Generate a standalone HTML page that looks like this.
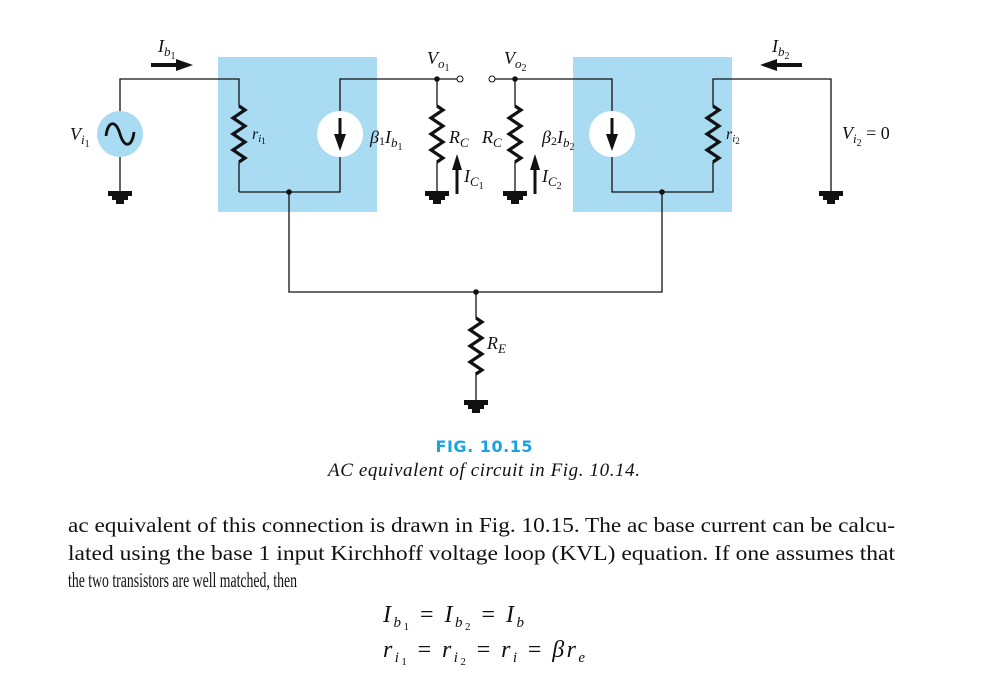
<!DOCTYPE html>
<html><head><meta charset="utf-8"><style>
html,body{margin:0;padding:0;background:#fff;}
svg{display:block;}
.t{font-family:"Liberation Serif",serif;font-style:italic;fill:#111;}
.b{font-family:"Liberation Serif",serif;fill:#111;}
</style></head><body>
<svg width="998" height="676" viewBox="0 0 998 676" xmlns="http://www.w3.org/2000/svg">
<defs>
<g id="gnd"><rect x="-12" y="0" width="24" height="5" fill="#111"/><rect x="-8" y="5" width="16" height="4" fill="#111"/><rect x="-4" y="9" width="8" height="4" fill="#111"/></g>
<path id="res" d="M0 0 l6 4 l-12 8 l12 8 l-12 8 l12 8 l-12 8 l12 8 l-6 4" fill="none" stroke="#111" stroke-width="3.2" stroke-linejoin="miter"/>
</defs>
<rect x="218" y="57" width="159" height="155" fill="#a9dcf3"/>
<rect x="573" y="57" width="159" height="155" fill="#a9dcf3"/>
<g stroke="#111" stroke-width="1.3" fill="none">
<polyline points="120,112 120,79 239,79 239,106"/>
<line x1="120" y1="157" x2="120" y2="191"/>
<line x1="239" y1="162" x2="239" y2="192"/>
<polyline points="239,192 340,192 340,157"/>
<polyline points="340,111 340,79 459,79"/>
<line x1="437" y1="79" x2="437" y2="106"/>
<line x1="437" y1="162" x2="437" y2="191"/>
<polyline points="492,79 612,79 612,111"/>
<line x1="515" y1="79" x2="515" y2="106"/>
<line x1="515" y1="162" x2="515" y2="191"/>
<polyline points="612,157 612,192 713,192 713,162"/>
<polyline points="713,106 713,79 831,79 831,191"/>
<polyline points="289,192 289,292 662,292 662,192"/>
<line x1="476" y1="292" x2="476" y2="318"/>
<line x1="476" y1="372" x2="476" y2="400"/>
</g>
<use href="#res" x="239" y="106"/>
<use href="#res" x="437" y="106"/>
<use href="#res" x="515" y="106"/>
<use href="#res" x="713" y="106"/>
<use href="#res" x="476" y="318"/>
<use href="#gnd" x="120" y="191"/>
<use href="#gnd" x="437" y="191"/>
<use href="#gnd" x="515" y="191"/>
<use href="#gnd" x="831" y="191"/>
<use href="#gnd" x="476" y="400"/>
<circle cx="289" cy="192" r="2.8" fill="#111"/>
<circle cx="662" cy="192" r="2.8" fill="#111"/>
<circle cx="476" cy="292" r="2.8" fill="#111"/>
<circle cx="437" cy="79" r="2.8" fill="#111"/>
<circle cx="515" cy="79" r="2.8" fill="#111"/>
<circle cx="460" cy="79" r="3" fill="#fff" stroke="#111" stroke-width="1"/>
<circle cx="492" cy="79" r="3" fill="#fff" stroke="#111" stroke-width="1"/>
<circle cx="120" cy="134" r="23" fill="#a9dcf3"/>
<path d="M106 136 C108 120,116 120,120 134 C124 148,132 148,134 132" fill="none" stroke="#111" stroke-width="2.8"/>
<circle cx="340" cy="134" r="23" fill="#fff"/>
<circle cx="612" cy="134" r="23" fill="#fff"/>
<g fill="#111">
<rect x="338.5" y="118" width="3" height="18"/><polygon points="334,134 346,134 340,151"/>
<rect x="610.5" y="118" width="3" height="18"/><polygon points="606,134 618,134 612,151"/>
<rect x="151" y="63" width="28" height="4"/><polygon points="176,59 193,65 176,71"/>
<rect x="774" y="63" width="28" height="4"/><polygon points="777,59 760,65 777,71"/>
<rect x="455.5" y="168" width="3" height="26"/><polygon points="452,170 462,170 457,154"/>
<rect x="533.5" y="168" width="3" height="26"/><polygon points="530,170 540,170 535,154"/>
</g>
<text class="t" x="158" y="52" font-size="18">I<tspan font-size="13" dy="4">b</tspan><tspan font-size="10" dy="3" font-style="normal">1</tspan></text>
<text class="t" x="772" y="52" font-size="18">I<tspan font-size="13" dy="4">b</tspan><tspan font-size="10" dy="3" font-style="normal">2</tspan></text>
<text class="t" x="70" y="140" font-size="18">V<tspan font-size="13" dy="4">i</tspan><tspan font-size="10" dy="3" font-style="normal">1</tspan></text>
<text class="t" x="252" y="139" font-size="16">r<tspan font-size="11" dy="3">i</tspan><tspan font-size="9" dy="2" font-style="normal">1</tspan></text>
<text class="t" x="370" y="143" font-size="18">β<tspan font-size="12" dy="2" font-style="normal">1</tspan><tspan dy="-2">I</tspan><tspan font-size="13" dy="4">b</tspan><tspan font-size="10" dy="3" font-style="normal">1</tspan></text>
<text class="t" x="427" y="64" font-size="18">V<tspan font-size="13" dy="4">o</tspan><tspan font-size="10" dy="3" font-style="normal">1</tspan></text>
<text class="t" x="504" y="64" font-size="18">V<tspan font-size="13" dy="4">o</tspan><tspan font-size="10" dy="3" font-style="normal">2</tspan></text>
<text class="t" x="449" y="143" font-size="18">R<tspan font-size="13" dy="4">C</tspan></text>
<text class="t" x="482" y="143" font-size="18">R<tspan font-size="13" dy="4">C</tspan></text>
<text class="t" x="464" y="182" font-size="18">I<tspan font-size="13" dy="4">C</tspan><tspan font-size="10" dy="3" font-style="normal">1</tspan></text>
<text class="t" x="542" y="182" font-size="18">I<tspan font-size="13" dy="4">C</tspan><tspan font-size="10" dy="3" font-style="normal">2</tspan></text>
<text class="t" x="542" y="143" font-size="18">β<tspan font-size="12" dy="2" font-style="normal">2</tspan><tspan dy="-2">I</tspan><tspan font-size="13" dy="4">b</tspan><tspan font-size="10" dy="3" font-style="normal">2</tspan></text>
<text class="t" x="726" y="139" font-size="16">r<tspan font-size="11" dy="3">i</tspan><tspan font-size="9" dy="2" font-style="normal">2</tspan></text>
<text class="t" x="842" y="139" font-size="18">V<tspan font-size="13" dy="4">i</tspan><tspan font-size="10" dy="3" font-style="normal">2</tspan><tspan font-style="normal" dy="-7"> = 0</tspan></text>
<text class="t" x="487" y="349" font-size="18">R<tspan font-size="13" dy="4">E</tspan></text>
<text x="484" y="452" text-anchor="middle" font-family="'DejaVu Sans',sans-serif" font-weight="bold" font-size="16" fill="#1ba2e3" textLength="97">FIG. 10.15</text>
<text class="t" x="484" y="476" text-anchor="middle" font-size="19" textLength="312">AC equivalent of circuit in Fig. 10.14.</text>
<text class="b" x="68" y="532" font-size="21" textLength="827" lengthAdjust="spacingAndGlyphs">ac equivalent of this connection is drawn in Fig. 10.15. The ac base current can be calcu-</text>
<text class="b" x="68" y="560" font-size="21" textLength="827" lengthAdjust="spacingAndGlyphs">lated using the base 1 input Kirchhoff voltage loop (KVL) equation. If one assumes that</text>
<text class="b" x="68" y="587" font-size="21" textLength="229" lengthAdjust="spacingAndGlyphs">the two transistors are well matched, then</text>
<text class="t" x="383" y="622" font-size="24" textLength="141" lengthAdjust="spacing">I<tspan font-size="15" dy="5">b</tspan><tspan font-size="11" dy="3" font-style="normal">1</tspan><tspan font-style="normal" dy="-8"> = </tspan>I<tspan font-size="15" dy="5">b</tspan><tspan font-size="11" dy="3" font-style="normal">2</tspan><tspan font-style="normal" dy="-8"> = </tspan>I<tspan font-size="15" dy="5">b</tspan></text>
<text class="t" x="383" y="657" font-size="24" textLength="202" lengthAdjust="spacing">r<tspan font-size="15" dy="5">i</tspan><tspan font-size="11" dy="3" font-style="normal">1</tspan><tspan font-style="normal" dy="-8"> = </tspan>r<tspan font-size="15" dy="5">i</tspan><tspan font-size="11" dy="3" font-style="normal">2</tspan><tspan font-style="normal" dy="-8"> = </tspan>r<tspan font-size="15" dy="5">i</tspan><tspan font-style="normal" dy="-5"> = </tspan>βr<tspan font-size="15" dy="5">e</tspan></text>
</svg>
</body></html>
